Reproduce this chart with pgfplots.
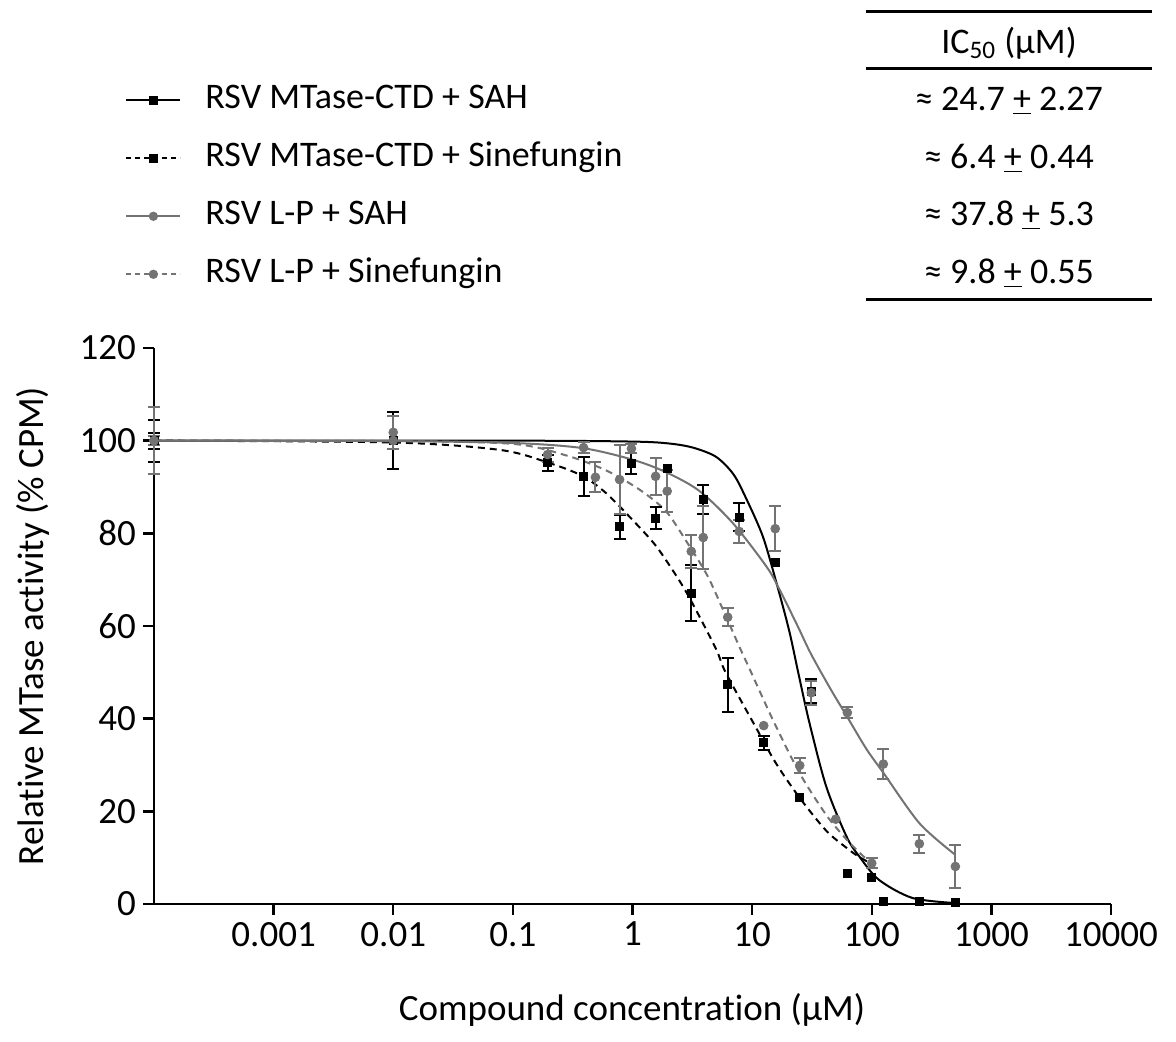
\documentclass[border=0pt]{standalone}
\usepackage{pgfplots}
\pgfplotsset{compat=1.18}
\usepackage{fontspec}
\setmainfont{Carlito}[Ligatures=NoCommon]
\definecolor{lpgray}{RGB}{115,115,115}
\newcommand{\fs}{\fontsize{18pt}{21.6pt}\selectfont}

\begin{document}
\begin{tikzpicture}
\path[use as bounding box] (-77pt,-69pt) rectangle (511pt,452pt);
\begin{axis}[
    scale only axis,
    width=478.5pt, height=278pt,
    xmode=log, xmin=1e-4, xmax=1e4,
    ymin=0, ymax=120,
    clip=false,
    axis x line*=bottom, axis y line*=left,
    axis line style={-, line width=1.2pt},
    tick style={line width=1.2pt, black},
    tick align=outside, major tick length=5.5pt,
    xminorticks=false, yminorticks=false,
    xtick={1e-3,1e-2,1e-1,1,10,100,1000,10000},
    xticklabels={0.001,0.01,0.1,1,10,100,1000,10000},
    ytick={0,20,40,60,80,100,120},
    yticklabels={0,20,40,60,80,100,120},
    tick label style={font=\fontsize{18.5pt}{22pt}\selectfont},
    label style={font=\fontsize{18.5pt}{22pt}\selectfont},
    xlabel={Compound concentration (µM)},
    ylabel={Relative MTase activity (\% CPM)},
    xlabel style={at={(axis description cs:0.4995,-0.1906)}, anchor=center},
    ylabel style={at={(axis description cs:-0.1264,0.5)}, anchor=center},
    legend image code/.code={\draw[mark repeat=2,mark phase=2,#1] plot coordinates {(0pt,0pt) (13.5pt,0pt) (27pt,0pt)};},
    legend style={at={(axis description cs:-0.0303,1.475)}, anchor=north west,
        draw=none, fill=none, inner sep=0pt, row sep=13pt, column sep=12pt,
        font=\fs, nodes={inner sep=0pt, text height=12pt, text depth=4pt}},
    legend cell align=left,
]
% fitted curves
\addplot[black, line width=1pt, smooth, forget plot] coordinates {
 (0.0001,100) (0.1,100) (1,99.8) (2,99.4) (3.2,98.5) (5,96.5) (7,92.7) (9,87.3)
 (12.3,79.3) (15.9,69.5) (20.4,59) (24.5,49.5) (30.2,39) (41.7,25.3) (61.7,14.5)
 (79,10.2) (115,5.2) (219,1.3) (500,0.2)};
\addplot[black, line width=1pt, dash pattern=on 3.5pt off 2.5pt, smooth, forget plot] coordinates {
 (0.0001,100) (0.01,99.6) (0.078,98) (0.2,95.2) (0.38,92.4) (0.6,88.7) (1,82.9)
 (1.58,77.2) (2.45,69.9) (3.2,64.7) (5,55) (6,50) (10.7,38.2) (15.8,30.4) (25,22.9)
 (41.7,15.8) (61.7,12.1) (79,10.1) (100,8.7)};
\addplot[lpgray, line width=1pt, smooth, forget plot] coordinates {
 (0.0001,100) (0.01,99.9) (0.1,99.5) (0.38,98.4) (1,95.9) (1.9,93.2) (3.6,89.2)
 (6.9,82.2) (13.2,72.8) (17,67.8) (24,60) (31,54) (45,46.5) (62,40.5) (90,33.5)
 (126,28.2) (251,17.4) (500,10.6)};
\addplot[lpgray, line width=1pt, dash pattern=on 3.5pt off 2.5pt, smooth, forget plot] coordinates {
 (0.0001,100) (0.01,99.9) (0.1,99.3) (0.28,96.8) (0.6,93.6) (1.15,89.4) (1.9,84.8)
 (2.8,78.4) (4.2,71) (5.6,64) (7.8,55.6) (9.5,50.8) (15,39.6) (25,28.2) (41.7,19.2)
 (61.7,13.9) (85,10.3) (100,8.9)};

% RSV MTase-CTD + SAH
\addplot[only marks, black, mark=square*, mark size=2pt, forget plot,
    error bars/.cd, y dir=both, y explicit,
    error bar style={line width=1pt}, error mark options={rotate=90, mark size=3pt, line width=1pt}]
 table[x=x, y=y, y error=e] {
x y e
0.0001 100 1.7
0.01 100 6.2
0.98 95.0 2.3
3.9 87.3 3.2
7.8 83.5 3.1
31.25 45.9 2.6
};
\addplot[only marks, black, mark=square*, mark size=2pt, forget plot] table[x=x, y=y] {
x y
1.95 94.1
15.6 73.8
62.5 6.5
125 0.6
250 0.6
500 0.3
};
% RSV MTase-CTD + Sinefungin
\addplot[only marks, black, mark=square*, mark size=2pt, forget plot,
    error bars/.cd, y dir=both, y explicit,
    error bar style={line width=1pt}, error mark options={rotate=90, mark size=3pt, line width=1pt}]
 table[x=x, y=y, y error=e] {
x y e
0.0001 100 4.5
0.195 95.2 1.8
0.39 92.3 4.2
0.78 81.4 2.6
1.56 83.3 2.4
3.1 67.1 6.0
6.25 47.3 5.9
12.5 34.8 1.5
};
\addplot[only marks, black, mark=square*, mark size=2pt, forget plot] table[x=x, y=y] {
x y
0.01 100
25 23.0
100 5.7
};
% RSV L-P + SAH
\addplot[only marks, lpgray, mark=*, mark size=2.2pt, forget plot,
    error bars/.cd, y dir=both, y explicit,
    error bar style={line width=1pt}, error mark options={rotate=90, mark size=3pt, line width=1pt}]
 table[x=x, y=y, y error=e] {
x y e
0.0001 100 7.3
0.01 101.8 3.5
0.49 92.1 3.2
0.98 98.3 1.0
1.95 89.1 4.5
3.9 79.1 6.7
7.8 80.4 2.5
15.6 81.0 4.8
31.25 45.6 2.6
62.5 41.3 1.2
125 30.2 3.2
250 13.0 1.9
500 8.1 4.6
};
% RSV L-P + Sinefungin
\addplot[only marks, lpgray, mark=*, mark size=2.2pt, forget plot,
    error bars/.cd, y dir=both, y explicit,
    error bar style={line width=1pt}, error mark options={rotate=90, mark size=3pt, line width=1pt}]
 table[x=x, y=y, y error=e] {
x y e
0.0001 100 1.0
0.195 97.0 1.5
0.39 98.5 1.2
0.78 91.6 7.4
1.56 92.3 4.0
3.1 76.1 3.5
6.25 61.9 2.0
25 29.9 1.6
100 8.8 1.1
};
\addplot[only marks, lpgray, mark=*, mark size=2.2pt, forget plot] table[x=x, y=y] {
x y
0.01 100
12.5 38.5
50 18.3
};

\addlegendimage{black, line width=1pt, mark=square*, mark size=1.7pt}
\addlegendentry{RSV MTase-CTD + SAH}
\addlegendimage{black, line width=1pt, dash pattern=on 2.5pt off 2pt, mark=square*, mark size=1.7pt, mark options={solid}}
\addlegendentry{RSV MTase-CTD + Sinefungin}
\addlegendimage{lpgray, line width=1pt, mark=*, mark size=1.8pt}
\addlegendentry{RSV L-P + SAH}
\addlegendimage{lpgray, line width=1pt, dash pattern=on 2.5pt off 2pt, mark=*, mark size=1.8pt, mark options={solid}}
\addlegendentry{RSV L-P + Sinefungin}
\end{axis}

% IC50 table
\begin{scope}[every node/.style={font=\fs, inner sep=0pt, anchor=base}]
\draw[line width=1.5pt] (356pt,446pt) -- (499pt,446pt);
\node at (427.5pt,425.3pt) {IC\textsubscript{50} (µM)};
\draw[line width=1.5pt] (356pt,417.5pt) -- (499pt,417.5pt);
\node at (427.5pt,396.8pt) {≈ 24.7 \underline{+} 2.27};
\node at (427.5pt,367.8pt) {≈ 6.4 \underline{+} 0.44};
\node at (427.5pt,339.3pt) {≈ 37.8 \underline{+} 5.3};
\node at (427.5pt,310.3pt) {≈ 9.8 \underline{+} 0.55};
\draw[line width=1.5pt] (356pt,302pt) -- (499pt,302pt);
\end{scope}
\end{tikzpicture}
\end{document}
